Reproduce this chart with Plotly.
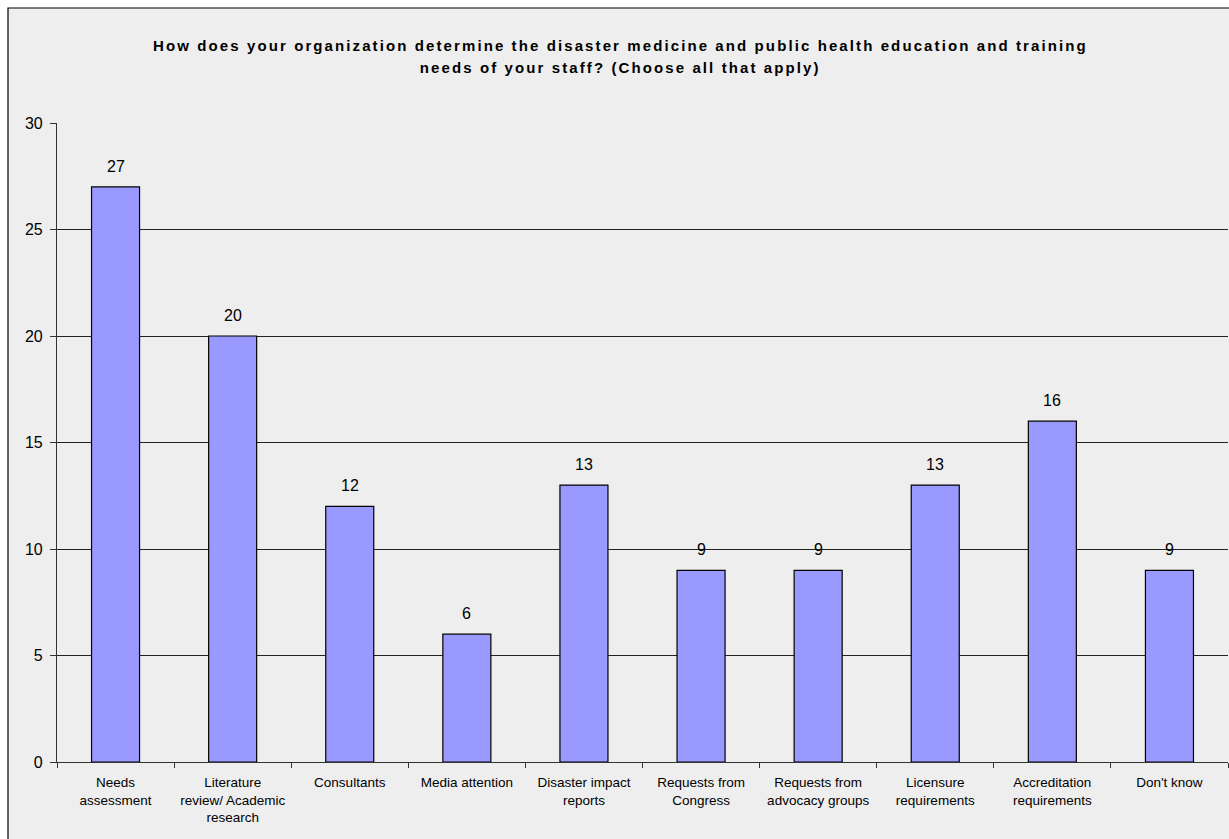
import plotly.graph_objects as go

categories = [
    "Needs<br>assessment",
    "Literature<br>review/ Academic<br>research",
    "Consultants",
    "Media attention",
    "Disaster impact<br>reports",
    "Requests from<br>Congress",
    "Requests from<br>advocacy groups",
    "Licensure<br>requirements",
    "Accreditation<br>requirements",
    "Don't know",
]
counts = [27, 20, 12, 6, 13, 9, 9, 13, 16, 9]
y_ticks = [0, 5, 10, 15, 20, 25, 30]

title_lines = [
    "How does your organization determine the disaster medicine and public health education and training",
    "needs of your staff? (Choose all that apply)",
]

FONT = "Liberation Sans, Arial, sans-serif"
W, H = 1229, 839
L, R, T, B = 57, 1, 123, 77
pw, ph = W - L - R, H - T - B


def px_x(p):
    return (p - L) / pw


def px_y(p):
    return (H - B - p) / ph


fig = go.Figure()
fig.add_trace(go.Bar(
    x=categories,
    y=counts,
    marker=dict(color="#9999FF", line=dict(color="#000000", width=1.2)),
    hoverinfo="x+y",
))

# value labels above each bar
for cat, v in zip(categories, counts):
    fig.add_annotation(x=cat, y=v, text=str(v), showarrow=False,
                       yanchor="bottom", yshift=10,
                       font=dict(family=FONT, size=16, color="#000000"))

# two-line heading
for i, line in enumerate(title_lines):
    fig.add_annotation(xref="paper", yref="paper", x=px_x(620), y=px_y(45 + 22 * i),
                       text=line, showarrow=False, xanchor="center", yanchor="middle",
                       font=dict(family=FONT, size=15, color="#000000", weight="bold"))

# chart frame
fig.add_shape(type="rect", xref="paper", yref="paper",
              x0=px_x(8), x1=px_x(1240), y0=px_y(850), y1=px_y(8),
              fillcolor="#EEEEEE", line=dict(color="#000000", width=1.2), layer="below")

fig.update_layout(
    width=W, height=H,
    margin=dict(l=L, r=R, t=T, b=B, pad=0),
    paper_bgcolor="#FFFFFF",
    plot_bgcolor="rgba(0,0,0,0)",
    showlegend=False,
    bargap=0.59,
    font=dict(family=FONT, size=13.5, color="#000000"),
)
fig.update_xaxes(
    type="category", showline=True, linecolor="#333333", linewidth=1.2,
    ticks="outside", tickson="boundaries", ticklen=5, tickcolor="#333333",
    tickfont=dict(size=13.5), ticklabelstandoff=8, showgrid=False,
)
fig.update_yaxes(
    range=[0, 30], tickvals=y_ticks, showline=True, linecolor="#333333", linewidth=1.2,
    ticks="outside", ticklen=6, tickcolor="#333333", tickfont=dict(size=16),
    ticklabelstandoff=4,
    showgrid=True, gridcolor="#222222", gridwidth=1, zeroline=False,
)

# widen the letter spacing of the heading lines
spacing_js = """
var gd = document.getElementById('{plot_id}');
gd.querySelectorAll('.annotation-text').forEach(function (t) {
  var s = t.textContent;
  if (s.indexOf('How does') === 0 || s.indexOf('needs of') === 0) {
    t.style.letterSpacing = '2.1px';
  }
});
"""

fig.write_html("out.html", post_script=spacing_js)
